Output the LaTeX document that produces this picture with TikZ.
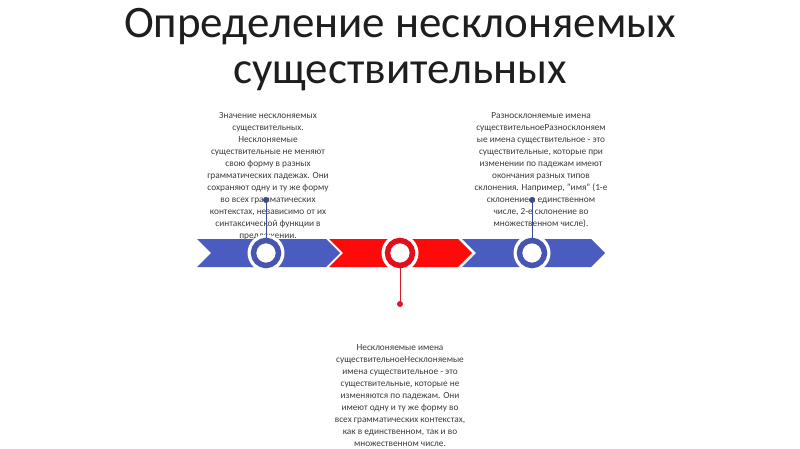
\documentclass[tikz,border=0pt]{standalone}
\usepackage{fontspec}
\setmainfont{Carlito}
\definecolor{bandblue}{HTML}{4A5CC0}
\definecolor{ringblue}{HTML}{4656B0}
\definecolor{bandred}{HTML}{FF0A0A}
\definecolor{ringred}{HTML}{E0101E}
\definecolor{pinblue}{HTML}{3E4A8C}
\definecolor{pinred}{HTML}{D81A2A}
\definecolor{txt}{HTML}{3C3C3C}
\definecolor{titletxt}{HTML}{1E1E1E}
\tikzset{
  titlestyle/.style={font=\fontsize{45}{46}\selectfont, text=titletxt, inner sep=0pt, anchor=base},
  bodystyle/.style={font=\fontsize{9.3}{12}\selectfont, text=txt, align=center, inner sep=0pt, anchor=north},
  halo/.style={fill=white, draw=none},
  ringb/.style={draw=ringblue, line width=5.5pt, fill=white},
  ringr/.style={draw=ringred, line width=5.5pt, fill=white},
  pinlineb/.style={draw=pinblue, line width=0.9pt},
  pinliner/.style={draw=pinred, line width=0.9pt},
  dotb/.style={circle, fill=pinblue, inner sep=0pt, minimum size=6pt},
  dotr/.style={circle, fill=pinred, inner sep=0pt, minimum size=6pt},
  ringnode/.style={circle, inner sep=0pt, minimum size=25pt}
}
\begin{document}
\begin{tikzpicture}[x=1pt,y=-1pt]
\useasboundingbox (0,0) rectangle (800,449);
\fill[white] (0,0) rectangle (800,449);

% title
\node[titlestyle] (t1) at (400,38) {Определение несклоняемых};
\node[titlestyle] (t2) at (400,84) {существительных};

% texts
\node[bodystyle] (left) at (268,112) {Значение несклоняемых\\существительных.\\Несклоняемые\\существительные не меняют\\свою форму в разных\\грамматических падежах. Они\\сохраняют одну и ту же форму\\во всех грамматических\\контекстах, независимо от их\\синтаксической функции в\\предложении.};
\node[bodystyle] (right) at (541,112) {Разносклоняемые имена\\существительноеРазносклоняем\\ые имена существительное - это\\существительные, которые при\\изменении по падежам имеют\\окончания разных типов\\склонения. Например, "имя" (1-е\\склонение в единственном\\числе, 2-е склонение во\\множественном числе).};
\node[bodystyle] (bottom) at (400,344) {Несклоняемые имена\\существительноеНесклоняемые\\имена существительное - это\\существительные, которые не\\изменяются по падежам. Они\\имеют одну и ту же форму во\\всех грамматических контекстах,\\как в единственном, так и во\\множественном числе.};

% band
\fill[bandblue] (197,239) -- (326,239) -- (340,253) -- (326,267) -- (197,267) -- (211,253) -- cycle;
\fill[bandred] (329,239) -- (458,239) -- (472,253) -- (458,267) -- (329,267) -- (343,253) -- cycle;
\fill[bandblue] (462,239) -- (591,239) -- (605,253) -- (591,267) -- (462,267) -- (476,253) -- cycle;

% halos
\fill[halo] (266,253) circle (18.5);
\fill[halo] (400,253) circle (18.5);
\fill[halo] (532,253) circle (18.5);

% rings
\node[ringnode, ringb] (c1) at (266,253) {};
\node[ringnode, ringr] (c2) at (400,253) {};
\node[ringnode, ringb] (c3) at (532,253) {};

% pins
\node[dotb] (d1) at (266,200) {};
\node[dotr] (d2) at (400,304) {};
\node[dotb] (d3) at (532,200) {};
\draw[pinlineb] (c1.north) -- (d1.center);
\draw[pinliner] (c2.south) -- (d2.center);
\draw[pinlineb] (c3.north) -- (d3.center);
\end{tikzpicture}
\end{document}
